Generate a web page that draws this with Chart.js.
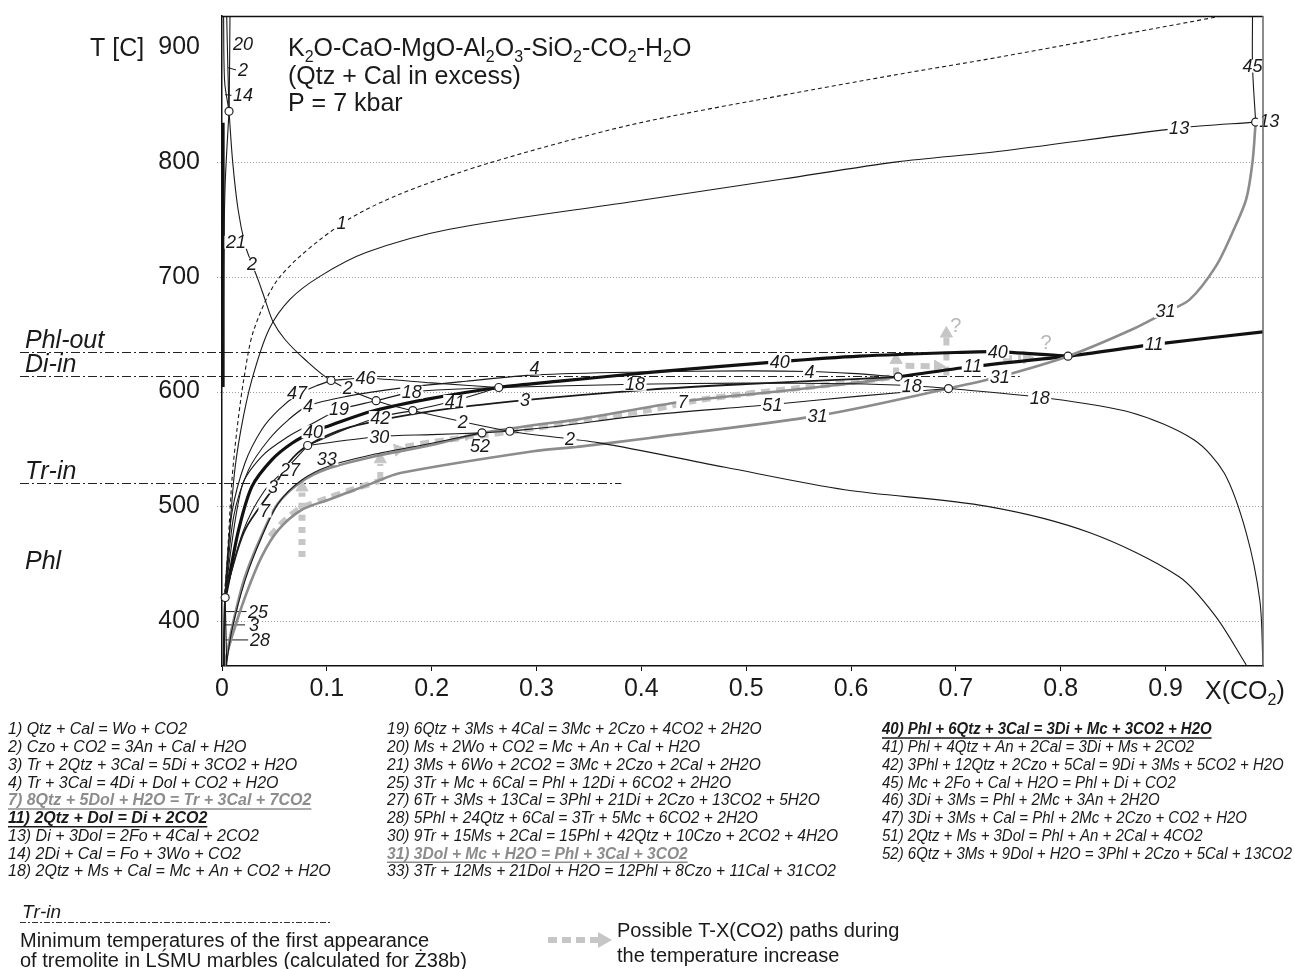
<!DOCTYPE html>
<html><head><meta charset="utf-8">
<script src="https://cdn.jsdelivr.net/npm/chart.js@4.4.0/dist/chart.umd.min.js"></script>
<style>html,body{margin:0;padding:0;background:#fff}canvas{display:block}</style>
</head><body>
<canvas id="c" width="1295" height="969"></canvas>
<script>
// ---------- axis ranges & ticks ----------
const xMin = 0, xMax = 0.993, tMin = 361, tMax = 927;
const xStep = 0.1, tStep = 100;
const gridT = [400, 500, 600, 700, 800];

// ---------- reaction curves [X(CO2), T] ----------
const r1  = [[0.002,419],[0.0048,451],[0.0095,523],[0.0143,567],[0.0207,610],[0.0305,654],[0.0553,700],[0.114,746],[0.17,772],[0.255,799],[0.389,832],[0.535,858],[0.644,876],[0.74,891],[0.954,927]];
const r2  = [[0.0067,844],[0.0102,800],[0.0153,758.7],[0.0219,728.2],[0.0286,710.8],[0.0343,697.7],[0.041,680.3],[0.0486,661],[0.0601,645.3],[0.0791,627.9],[0.104,609.6],[0.147,592],[0.182,583.4],[0.2745,565.4],[0.36,555.3],[0.48,534],[0.594,514.5],[0.73,500],[0.828,477],[0.913,438.7],[0.948,404],[0.977,362]];
const r2top = [[0.0076,927],[0.0072,880],[0.0067,844]];
const r20 = [[0.0045,927],[0.0055,885],[0.0067,844]];
const r14 = [[0.0015,927],[0.0025,870],[0.0067,844]];
const r21 = [[0.0067,844],[0.003,780],[0.0015,700],[0.001,604]];
const rAxis = [[0.001,834],[0.001,604]];
const r3  = [[0.0015,361],[0.003,420.6],[0.0079,440],[0.0222,480],[0.049,516],[0.0636,538],[0.0817,553],[0.122,569],[0.2,583],[0.289,592.5],[0.408,601.7],[0.5,606.5],[0.608,611],[0.645,612.8]];
const r4  = [[0.003,420.6],[0.0111,491],[0.0254,532],[0.0445,558],[0.0636,575.6],[0.082,587.5],[0.12,596],[0.17,603],[0.233,609],[0.3,614.5],[0.4,617],[0.5,618],[0.5605,617.4],[0.6,615.8],[0.645,612.8]];
const r7  = [[0.003,361],[0.009,392],[0.021,436],[0.037,473],[0.053,502],[0.075,521],[0.1,532.5],[0.143,543],[0.2,553.5],[0.248,564],[0.3,571],[0.341,576],[0.44,591.3],[0.53,600],[0.608,608],[0.645,612.8]];
const r11 = [[0.645,612.8],[0.716,621.8],[0.807,630.8],[0.889,641],[0.993,652]];
const r13 = [[0.003,421],[0.0112,523],[0.0181,567],[0.0286,610.5],[0.0448,654],[0.0648,680.2],[0.0934,700.3],[0.138,721.2],[0.217,741.3],[0.389,765],[0.535,785],[0.644,800],[0.74,809],[0.913,829.4],[0.986,834.6]];
const r18 = [[0.147,592],[0.181,599.5],[0.21,601.5],[0.264,603.5],[0.394,606.3],[0.5,607.3],[0.6,606.8],[0.658,605],[0.693,602.6],[0.782,594.8],[0.867,581.7],[0.927,558],[0.956,529],[0.977,477],[0.99,418],[0.993,362]];
const r19 = [[0.003,425],[0.019,517.4],[0.038,543.6],[0.0636,561],[0.0858,572],[0.1115,584],[0.147,592]];
const r25 = [[0.003,420.6],[0.0025,390],[0.0022,361]];
const r28 = [[0.003,420.6],[0.0038,390],[0.0045,361]];
const r27 = [[0.003,422],[0.02,478],[0.04,513],[0.0636,535],[0.0817,553]];
const r30 = [[0.0817,553],[0.15,560.8],[0.2,562.5],[0.248,564]];
const r31 = [[0.002,362],[0.0095,386.5],[0.0222,421.5],[0.038,456.4],[0.054,479.7],[0.076,497],[0.1017,505.8],[0.143,520],[0.17,529],[0.297,548],[0.341,552],[0.408,559.6],[0.569,579],[0.693,602.6],[0.742,613],[0.807,630.8],[0.868,654],[0.9,669],[0.923,680],[0.948,709],[0.964,738.7],[0.977,767.5],[0.983,800],[0.986,834.6]];
const r33 = [[0.004,361],[0.0095,392.5],[0.0222,436],[0.038,473.6],[0.054,503],[0.076,523],[0.1017,535],[0.143,545],[0.2,555],[0.248,564]];
const r40 = [[0.003,420.6],[0.0064,436],[0.0159,479.7],[0.0286,517.4],[0.0477,540.7],[0.0667,555],[0.0868,565],[0.1017,570],[0.143,582.8],[0.2,594],[0.264,603.5],[0.322,609],[0.408,616.6],[0.532,626],[0.608,630.8],[0.7,634],[0.74,634.6],[0.807,630.8]];
const r41 = [[0.182,583.4],[0.222,592],[0.264,603.5]];
const r42 = [[0.0817,553],[0.12,568],[0.151,578],[0.182,583.4]];
const r45 = [[0.983,927],[0.983,883],[0.986,834.6]];
const r46 = [[0.104,609.6],[0.137,611.5],[0.2,607.5],[0.264,603.5]];
const r47 = [[0.003,430],[0.0095,494.5],[0.022,538],[0.038,567],[0.054,584],[0.0715,597],[0.09,605],[0.104,609.6]];
const r51 = [[0.2745,565.4],[0.322,570],[0.4,579],[0.525,588.7],[0.608,596],[0.693,602.6]];
const r52 = [[0.248,564],[0.2745,565.4]];

// label leader lines
const leaders = [
  [[0.0057,882],[0.0135,880]], [[0.003,858.5],[0.0135,857.5]],
  [[0.0026,408.4],[0.024,408.4]], [[0.0027,396.8],[0.022,396.8]], [[0.0035,383.7],[0.025,383.7]]
];

// invariant points
const invPoints = [[0.0067,844],[0.003,420.6],[0.104,609.6],[0.147,592],[0.182,583.4],[0.264,603.5],[0.0817,553],[0.248,564],[0.2745,565.4],[0.645,612.8],[0.693,602.6],[0.807,630.8],[0.986,834.6]];

// possible T-X paths (grey dashed) and arrow heads [x, T, rotation]
const pathA = [[0.0763,456],[0.0763,512]];
const pathB = [[0.0458,474],[0.06,488],[0.0744,498],[0.1,507],[0.122,514],[0.15,522]];
const pathB2 = [[0.151,522],[0.151,537]];
const pathC = [[0.175,552],[0.2,556],[0.25,562],[0.297,568],[0.35,576],[0.408,584],[0.458,593],[0.5,598],[0.55,603],[0.608,609],[0.64,612.5]];
const pathD = [[0.643,613],[0.643,624]];
const pathE = [[0.652,622.5],[0.677,622]];
const pathF = [[0.691,614],[0.691,647]];
const pathG = [[0.745,629],[0.762,629.5]];
const arrowHeads = [[0.0763,516.5,0],[0.151,541,0],[0.168,549.5,80],[0.643,627.5,0],[0.683,622,90],[0.691,650.5,0],[0.768,629.5,90]];

// reference T lines
const refNames = ['Phl-out','Di-in','Tr-in'];
const refT = [634.6, 613.7, 520];
const refXEnd = [0.673, 0.761, 0.381];

// curve number labels [text, X, T]
const curveLabels = [
 ['20',0.020,902.6],['2',0.020,880],['14',0.020,858.4],['21',0.0133,730],['2',0.0286,710.8],['1',0.114,746.5],
 ['47',0.0715,599],['4',0.082,587.8],['19',0.1115,585],['2',0.120,603.5],['46',0.137,612.2],['18',0.181,599.5],['42',0.151,577.3],['41',0.222,591.3],['3',0.289,592.5],['4',0.298,620.5],
 ['40',0.0868,565],['30',0.150,560.8],['2',0.2297,573.5],['52',0.246,553],['2',0.332,558.4],['33',0.100,541.6],['27',0.0648,532],['3',0.0486,517],['7',0.041,496],
 ['25',0.0343,408.4],['3',0.0305,396.8],['28',0.0362,383.7],
 ['18',0.394,606.3],['7',0.4395,591.3],['40',0.532,626],['4',0.5605,617.4],['51',0.525,588.7],['31',0.568,578.6],
 ['40',0.740,634.6],['11',0.716,621.8],['31',0.742,613],['18',0.658,604.6],['18',0.780,594.8],['11',0.889,641],['31',0.900,669.8],
 ['13',0.913,829.4],['13',0.999,835.2],['45',0.983,883.4]
];
const qLabels = [['?',0.700,657],['?',0.786,641.5]];

// legend texts
const legendCol1 = ['1) Qtz + Cal = Wo + CO2','2) Czo + CO2 = 3An + Cal + H2O','3) Tr + 2Qtz + 3Cal = 5Di + 3CO2 + H2O','4) Tr + 3Cal = 4Di + Dol + CO2 + H2O','7) 8Qtz + 5Dol + H2O = Tr + 3Cal + 7CO2','11) 2Qtz + Dol = Di + 2CO2','13) Di + 3Dol = 2Fo + 4Cal + 2CO2','14) 2Di + Cal = Fo + 3Wo + CO2','18) 2Qtz + Ms + Cal = Mc + An + CO2 + H2O'];
const legendCol2 = ['19) 6Qtz + 3Ms + 4Cal = 3Mc + 2Czo + 4CO2 + 2H2O','20) Ms + 2Wo + CO2 = Mc + An + Cal + H2O','21) 3Ms + 6Wo + 2CO2 = 3Mc + 2Czo + 2Cal + 2H2O','25) 3Tr + Mc + 6Cal = Phl + 12Di + 6CO2 + 2H2O','27) 6Tr + 3Ms + 13Cal = 3Phl + 21Di + 2Czo + 13CO2 + 5H2O','28) 5Phl + 24Qtz + 6Cal = 3Tr + 5Mc + 6CO2 + 2H2O','30) 9Tr + 15Ms + 2Cal = 15Phl + 42Qtz + 10Czo + 2CO2 + 4H2O','31) 3Dol + Mc + H2O = Phl + 3Cal + 3CO2','33) 3Tr + 12Ms + 21Dol + H2O = 12Phl + 8Czo + 11Cal + 31CO2'];
const legendCol3 = ['40) Phl + 6Qtz + 3Cal = 3Di + Mc + 3CO2 + H2O','41) Phl + 4Qtz + An + 2Cal = 3Di + Ms + 2CO2','42) 3Phl + 12Qtz + 2Czo + 5Cal = 9Di + 3Ms + 5CO2 + H2O','45) Mc + 2Fo + Cal + H2O = Phl + Di + CO2','46) 3Di + 3Ms = Phl + 2Mc + 3An + 2H2O','47) 3Di + 3Ms + Cal = Phl + 2Mc + 2Czo + CO2 + H2O','51) 2Qtz + Ms + 3Dol = Phl + An + 2Cal + 4CO2','52) 6Qtz + 3Ms + 9Dol + H2O = 3Phl + 2Czo + 5Cal + 13CO2'];
const boldGray = ['7)','31)'], boldBlack = ['11)','40)'];

// ---------- styles ----------
const INK = '#1a1a1a', GRAY = '#8c8c8c', PATH = '#c6c6c6';
const FONT = '"Liberation Sans", Arial, sans-serif';
const st = {
  thin:  {c: INK, w: 1.1, d: []},
  mid:   {c: INK, w: 1.8, d: []},
  thick: {c: '#111', w: 3.2, d: []},
  gray:  {c: GRAY, w: 2.6, d: []},
  dash:  {c: INK, w: 1.1, d: [4,3]},
  path:  {c: PATH, w: 6, d: [9,6]},
  dots:  {c: PATH, w: 7, d: [6,6]}
};
const curves = [
  [r1,'dash'],[r2,'thin'],[r2top,'thin'],[r20,'thin'],[r14,'thin'],[r21,'thin'],[rAxis,'thick'],
  [r3,'mid'],[r4,'thin'],[r13,'thin'],[r18,'thin'],[r19,'thin'],[r25,'thin'],[r28,'thin'],[r27,'thin'],
  [r30,'thin'],[r33,'thin'],[r41,'thin'],[r42,'thin'],[r45,'thin'],[r46,'thin'],[r47,'thin'],[r51,'thin'],[r52,'thin'],
  [r7,'gray'],[r31,'gray'],[r40,'thick'],[r11,'thick']
];
const paths = [[pathA,'dots'],[pathB,'path'],[pathB2,'path'],[pathC,'path'],[pathD,'path'],[pathE,'path'],[pathF,'path'],[pathG,'path']];

const toXY = a => a.map(p => ({x: p[0], y: p[1]}));
const datasets = [];
paths.forEach(([d, s]) => datasets.push({data: toXY(d), showLine: true, pointRadius: 0, borderColor: st[s].c, borderWidth: st[s].w, borderDash: st[s].d, borderCapStyle: 'butt', tension: 0.3, order: 5}));
datasets.push({data: arrowHeads.map(p => ({x: p[0], y: p[1]})), showLine: false, pointStyle: 'triangle', pointRadius: 7, pointRotation: arrowHeads.map(p => p[2]), backgroundColor: PATH, borderColor: PATH, borderWidth: 1, order: 5});
curves.forEach(([d, s]) => datasets.push({data: toXY(d), showLine: true, pointRadius: 0, borderColor: st[s].c, borderWidth: st[s].w, borderDash: st[s].d, tension: 0.3, order: 3}));
leaders.forEach(d => datasets.push({data: toXY(d), showLine: true, pointRadius: 0, borderColor: INK, borderWidth: 1, tension: 0, order: 3}));
datasets.push({data: toXY(invPoints), showLine: false, pointRadius: 4, pointBackgroundColor: '#fff', pointBorderColor: '#222', pointBorderWidth: 1.2, clip: false, order: 0});

// ---------- drawing helpers ----------
function richText(ctx, s, x, y, size, style) {
  let cx = x;
  for (let i = 0; i < s.length; i++) {
    if (s[i] === '_' && i + 1 < s.length) {
      ctx.font = `${style} ${Math.round(size * 0.62)}px ${FONT}`;
      ctx.fillText(s[i + 1], cx, y + size * 0.22);
      cx += ctx.measureText(s[i + 1]).width;
      i++;
    } else {
      ctx.font = `${style} ${size}px ${FONT}`;
      ctx.fillText(s[i], cx, y);
      cx += ctx.measureText(s[i]).width;
    }
  }
  return cx;
}

const decor = {
  id: 'decor',
  beforeDatasetsDraw(chart) {
    const {ctx, chartArea: a, scales: {x, y}} = chart;
    ctx.save();
    ctx.strokeStyle = '#a0a0a0'; ctx.lineWidth = 1; ctx.setLineDash([1, 2]);
    gridT.forEach(t => {
      const yy = Math.round(y.getPixelForValue(t)) + 0.5;
      ctx.beginPath(); ctx.moveTo(a.left - 5, yy); ctx.lineTo(a.right, yy); ctx.stroke();
    });
    ctx.strokeStyle = '#222'; ctx.lineWidth = 1; ctx.setLineDash([9, 3, 2, 3]);
    refT.forEach((t, i) => {
      const yy = Math.round(y.getPixelForValue(t)) + 0.5;
      ctx.beginPath(); ctx.moveTo(20, yy); ctx.lineTo(x.getPixelForValue(refXEnd[i]), yy); ctx.stroke();
    });
    ctx.restore();
  },
  afterDatasetsDraw(chart) {
    const {ctx, scales: {x, y}} = chart;
    ctx.save();
    ctx.textBaseline = 'middle'; ctx.textAlign = 'center';
    ctx.font = `italic 18px ${FONT}`;
    curveLabels.forEach(([t, vx, vy]) => {
      const px = x.getPixelForValue(vx), py = y.getPixelForValue(vy);
      const w = ctx.measureText(t).width;
      ctx.fillStyle = '#fff'; ctx.fillRect(px - w / 2 - 1.5, py - 6.5, w + 3, 13);
      ctx.fillStyle = INK; ctx.fillText(t, px, py + 1);
    });
    ctx.font = `20px ${FONT}`; ctx.fillStyle = '#b8b8b8';
    qLabels.forEach(([t, vx, vy]) => ctx.fillText(t, x.getPixelForValue(vx), y.getPixelForValue(vy)));
    ctx.restore();
  },
  afterDraw(chart) {
    const {ctx, chartArea: a, scales: {x, y}} = chart;
    ctx.save();
    ctx.strokeStyle = '#111'; ctx.lineWidth = 1.5;
    ctx.beginPath(); ctx.moveTo(a.left, a.top + 0.5); ctx.lineTo(a.right, a.top + 0.5); ctx.stroke();
    ctx.strokeStyle = '#666';
    ctx.beginPath(); ctx.moveTo(a.right, a.top); ctx.lineTo(a.right, a.bottom); ctx.stroke();
    ctx.fillStyle = INK; ctx.textBaseline = 'alphabetic'; ctx.textAlign = 'left';
    const t900 = y.getPixelForValue(900);
    richText(ctx, 'K_2O-CaO-MgO-Al_2O_3-SiO_2-CO_2-H_2O', 288, t900 + 9, 25, 'normal');
    richText(ctx, '(Qtz + Cal in excess)', 288, t900 + 37, 25, 'normal');
    richText(ctx, 'P = 7 kbar', 288, t900 + 64, 25, 'normal');
    richText(ctx, 'T [C]', 90, t900 + 9, 25, 'normal');
    richText(ctx, 'X(CO_2)', 1205, a.bottom + 33, 25, 'normal');
    refNames.forEach((n, i) => richText(ctx, n, 25, y.getPixelForValue(refT[i]) - 4, 25, 'italic'));
    richText(ctx, 'Phl', 25, 569, 25, 'italic');
    // legend columns: [texts, left x, widest-row target width]
    ctx.textBaseline = 'middle';
    [[legendCol1, 8, 324, 8], [legendCol2, 387, 451, 6], [legendCol3, 882, 410, 7]].forEach(([col, lx, target, refRow]) => {
      ctx.font = `italic 16px ${FONT}`;
      const k = Math.min(1, target / ctx.measureText(col[refRow]).width);
      col.forEach((txt, i) => {
        const ly = 730 + i * 17.75;
        const key = txt.split(' ')[0];
        const bg = boldGray.includes(key), bb = boldBlack.includes(key);
        ctx.font = `italic ${bg || bb ? 'bold ' : ''}16px ${FONT}`;
        ctx.fillStyle = bg ? GRAY : INK;
        const w = ctx.measureText(txt).width * k;
        ctx.fillText(txt, lx, ly, w);
        if (bg || bb) {
          ctx.strokeStyle = ctx.fillStyle; ctx.lineWidth = 1.5; ctx.setLineDash([]);
          ctx.beginPath(); ctx.moveTo(lx, ly + 8); ctx.lineTo(lx + w, ly + 8); ctx.stroke();
        }
      });
    });
    ctx.fillStyle = INK; ctx.textBaseline = 'alphabetic';
    richText(ctx, 'Tr-in', 22, 918, 19, 'italic');
    ctx.strokeStyle = '#333'; ctx.lineWidth = 1; ctx.setLineDash([6, 2, 2, 2]);
    ctx.beginPath(); ctx.moveTo(20, 922.5); ctx.lineTo(332, 922.5); ctx.stroke();
    ctx.setLineDash([]);
    ctx.font = `20px ${FONT}`;
    ctx.fillText('Minimum temperatures of the first appearance', 20, 947);
    ctx.fillText('of tremolite in LŚMU marbles (calculated for Ż38b)', 20, 967);
    ctx.fillText('Possible T-X(CO2) paths during', 617, 937);
    ctx.fillText('the temperature increase', 617, 962);
    ctx.strokeStyle = PATH; ctx.lineWidth = 6; ctx.setLineDash([9, 5]);
    ctx.beginPath(); ctx.moveTo(548, 940); ctx.lineTo(598, 940); ctx.stroke();
    ctx.setLineDash([]); ctx.fillStyle = PATH;
    ctx.beginPath(); ctx.moveTo(598, 932); ctx.lineTo(612, 940); ctx.lineTo(598, 948); ctx.closePath(); ctx.fill();
    ctx.restore();
  }
};

new Chart(document.getElementById('c'), {
  type: 'scatter',
  data: {datasets},
  plugins: [decor],
  options: {
    responsive: false, animation: false, devicePixelRatio: 1,
    layout: {padding: {left: 0, right: 32, top: 16, bottom: 263}},
    plugins: {legend: {display: false}, tooltip: {enabled: false}},
    elements: {line: {capBezierPoints: false}},
    scales: {
      x: {
        type: 'linear', min: xMin, max: xMax,
        afterFit: s => { s.height = 40; s.paddingLeft = 0; s.paddingRight = 0; },
        grid: {display: true, drawOnChartArea: false, drawTicks: true, tickLength: 5, color: '#111', lineWidth: 1},
        border: {display: true, color: '#111', width: 1.5},
        ticks: {stepSize: xStep, includeBounds: false, maxRotation: 0, autoSkip: false, padding: 3, color: INK,
          font: {family: FONT, size: 25}, callback: v => (Math.abs(v) < 1e-9 ? '0' : (+v).toFixed(1))}
      },
      y: {
        type: 'linear', min: tMin, max: tMax,
        afterFit: s => { s.width = 222; s.paddingTop = 0; s.paddingBottom = 0; },
        grid: {display: false},
        border: {display: true, color: '#111', width: 1.5},
        ticks: {stepSize: tStep, includeBounds: false, padding: 14, color: INK, font: {family: FONT, size: 25}}
      }
    }
  }
});
</script>
</body></html>
